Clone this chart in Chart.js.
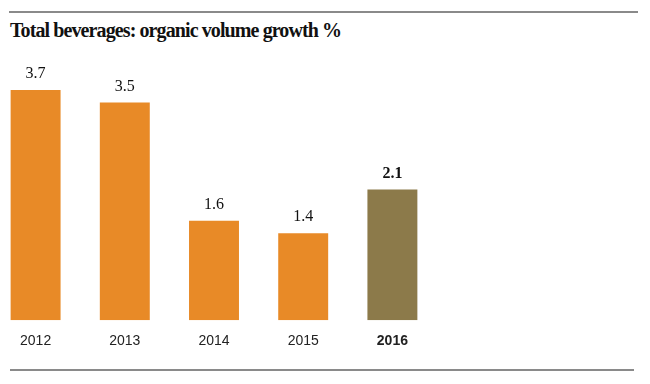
<!DOCTYPE html>
<html>
<head>
<meta charset="utf-8">
<script src="https://cdn.jsdelivr.net/npm/chart.js@4"></script>
<style>
  html, body { margin: 0; padding: 0; background: #fff; }
  body { width: 650px; height: 384px; position: relative; overflow: hidden; }
  .rule { position: absolute; height: 2px; background: #8a8a8a; }
  #title {
    position: absolute; left: 10px; top: 19px;
    font-family: "Liberation Serif", "DejaVu Serif", serif;
    font-weight: bold; font-size: 20px; color: #111;
    letter-spacing: -0.9px; white-space: nowrap;
  }
  #wrap { position: absolute; left: -9px; top: 0; width: 446px; height: 384px; }
</style>
</head>
<body>
<div class="rule" style="left:9px; width:629px; top:11px;"></div>
<div id="title">Total beverages: organic volume growth %</div>
<div id="wrap"><canvas id="graphCanvas"></canvas></div>
<div class="rule" style="left:10px; width:624px; top:369px;"></div>
<script>
const years = ["2012", "2013", "2014", "2015", "2016"];
const growth = [3.7, 3.5, 1.6, 1.4, 2.1];
const highlightYear = "2016";

const ORANGE = "#e88a27";
const OLIVE = "#8c7a4a";

// 棒の上に値を書く
const valueLabels = {
  id: "valueLabels",
  afterDatasetsDraw(chart) {
    const ctx = chart.ctx;
    const meta = chart.getDatasetMeta(0);
    ctx.save();
    ctx.textAlign = "center";
    ctx.textBaseline = "bottom";
    ctx.fillStyle = "#111";
    meta.data.forEach((bar, i) => {
      const bold = years[i] === highlightYear;
      ctx.font = (bold ? "bold " : "") + "16px 'Liberation Serif', serif";
      ctx.fillText(growth[i].toFixed(1), bar.x, bar.y - 8);
    });
    ctx.restore();
  },
};

const graphDraw = () => {
  let ctx = document.getElementById("graphCanvas").getContext("2d");
  let data = {
    labels: years,
    datasets: [
      {
        data: growth,
        backgroundColor: (c) => (years[c.dataIndex] === highlightYear ? OLIVE : ORANGE),
        borderWidth: 0,
        categoryPercentage: 1,
        barPercentage: 0.56,
      },
    ],
  };
  let options = {
    responsive: true,
    maintainAspectRatio: false,
    animation: false,
    layout: { padding: { top: 59, bottom: 21, left: 0, right: 0 } },
    plugins: {
      legend: { display: false },
      tooltip: { enabled: false },
    },
    scales: {
      x: {
        grid: { display: false, drawTicks: false },
        border: { display: false },
        ticks: {
          padding: 13,
          color: "#222",
          font: (c) => ({
            family: "'Liberation Sans', Arial, sans-serif",
            size: 14,
            weight: years[c.index] === highlightYear ? "bold" : "normal",
          }),
        },
      },
      y: {
        display: false,
        min: 0,
        max: 4.2,
      },
    },
  };
  new Chart(ctx, { type: "bar", data: data, options: options, plugins: [valueLabels] });
};

graphDraw();
</script>
</body>
</html>
